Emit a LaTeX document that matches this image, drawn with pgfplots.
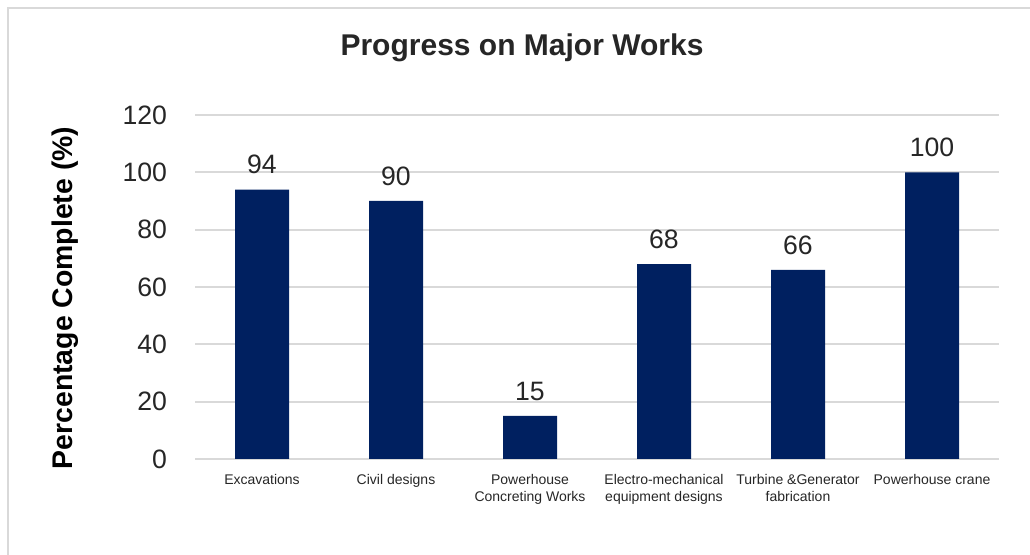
\documentclass[border=0pt]{standalone}
\usepackage{pgfplots}
\pgfplotsset{compat=1.18}
\usepackage{fontspec}
\setmainfont{Liberation Sans}
\definecolor{barblue}{HTML}{002060}
\definecolor{gridgray}{HTML}{D9D9D9}
\begin{document}
\begin{tikzpicture}
\useasboundingbox (0,0) rectangle (515pt,277.5pt);
\draw[gridgray, line width=1pt] (3.75pt,0) -- (3.75pt,273.5pt) -- (515pt,273.5pt);
\begin{axis}[
  at={(97.5pt,48pt)}, anchor=south west,
  scale only axis, width=402pt, height=172pt,
  xmin=-0.5, xmax=5.5, ymin=0, ymax=120,
  ytick={0,20,...,120},
  xtick=data,
  xticklabels={Excavations, Civil designs, Powerhouse\\Concreting Works, Electro-mechanical\\equipment designs, Turbine \&Generator\\fabrication, Powerhouse crane},
  xticklabel style={font=\fontsize{7}{8.5}\selectfont, align=center, yshift=-4.2pt, text=black!85},
  yticklabel style={font=\fontsize{13.3}{15}\selectfont, xshift=-10.5pt, text=black!85},
  /pgf/number format/assume math mode=true,
  major tick length=0pt,
  axis line style={draw=none},
  ymajorgrids, grid style={gridgray, line width=1pt},
  ybar, bar width=27pt,
  nodes near coords,
  every node near coord/.append style={font=\fontsize{13.3}{15}\selectfont, yshift=4.2pt, text=black!85},
  clip=false,
]
\addplot[fill=barblue, draw=none] coordinates {(0,94) (1,90) (2,15) (3,68) (4,66) (5,100)};
\end{axis}
\node[font=\bfseries\fontsize{15}{18}\selectfont, text=black!85] at (261pt,253.5pt) {Progress on Major Works};
\node[font=\bfseries\fontsize{14.2}{17}\selectfont, rotate=90, text=black] at (32.5pt,128.5pt) {Percentage Complete (\%)};
\end{tikzpicture}
\end{document}
